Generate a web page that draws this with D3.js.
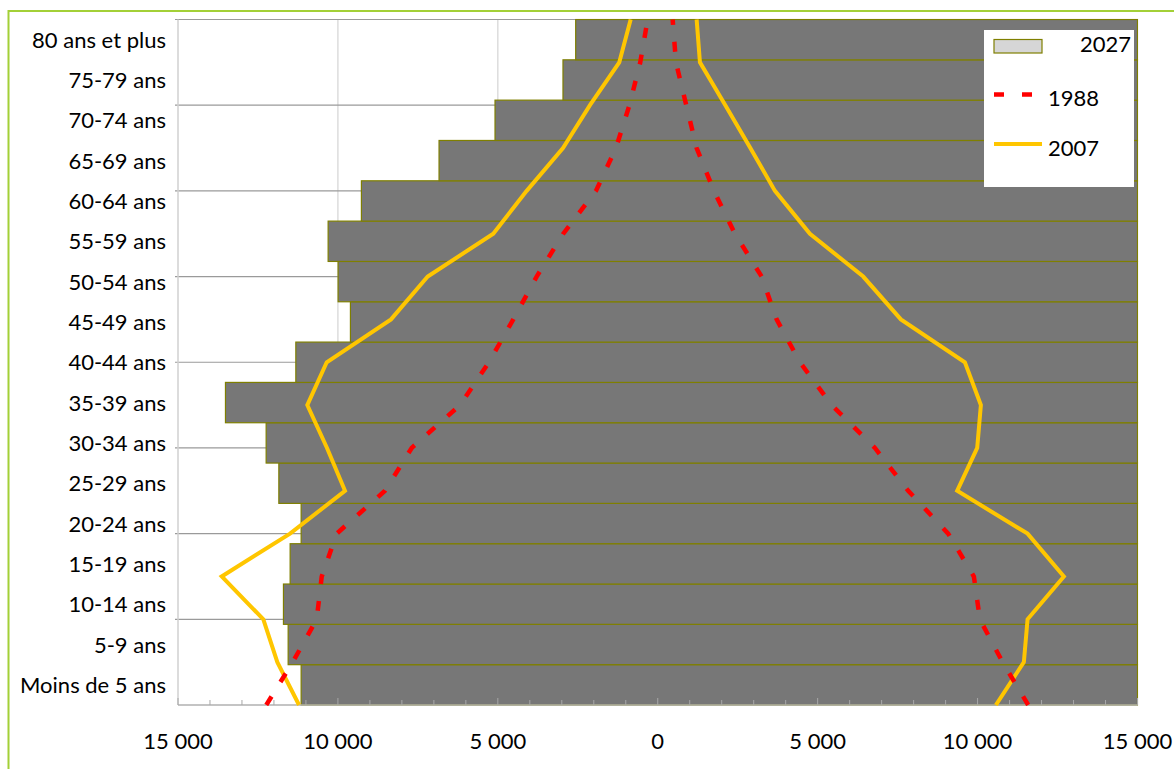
<!DOCTYPE html>
<html><head><meta charset="utf-8">
<script src="https://cdn.jsdelivr.net/npm/d3@7"></script>
<style>
html,body{margin:0;padding:0;background:#fff;}
svg text{font-family:Lato,"Open Sans",sans-serif;fill:#000;}
</style></head>
<body><svg id="chart" width="1174" height="769"></svg>
<script>
// ---- data (youngest to oldest) ----
const ageGroups = ["Moins de 5 ans","5-9 ans","10-14 ans","15-19 ans","20-24 ans","25-29 ans","30-34 ans","35-39 ans","40-44 ans","45-49 ans","50-54 ans","55-59 ans","60-64 ans","65-69 ans","70-74 ans","75-79 ans","80 ans et plus"];
const hommes2027 = [11150,11556,11703,11494,11150,11847,12244,13516,11316,9609,9994,10306,9266,6838,5088,2963,2566];
const hommes2007 = [11216,11894,12332,13633,11497,9778,10341,10957,10350,8340,7193,5142,4098,2963,2119,1203,847];
const femmes2007 = [10572,11447,11563,12698,11563,9362,9988,10103,9603,7602,6424,4758,3664,2895,2113,1319,1216];
const hommes1988 = [12240,11413,10663,10506,10038,8528,7693,6183,5277,4517,3786,2954,1932,1307,885,547,316];
const femmes1988 = [11582,10782,10072,9884,9081,7831,6790,5436,4445,3717,3248,2413,1757,1216,891,569,466];
const xTickValues = [-15000,-10000,-5000,0,5000,10000,15000];
const xTickLabels = ["15 000","10 000","5 000","0","5 000","10 000","15 000"];
const legendLabels = ["2027","1988","2007"];

const svg = d3.select("#chart");
const L = 178, R = 1137.5, T = 19.5, B = 705;
const FONT = 22;

// outer border
svg.append("rect").attr("x",8.5).attr("y",11).attr("width",1180).attr("height",780)
  .attr("fill","none").attr("stroke","#a3d037").attr("stroke-width",2);

const x = d3.scaleLinear().domain([-15000,15000]).range([L,R]);
const yBand = d3.scaleBand().domain(ageGroups.slice().reverse()).range([T,B]).padding(0);
const yPt = d3.scaleLinear().domain([0,ageGroups.length-1]).range([B,T]);

svg.append("clipPath").attr("id","plotclip").append("rect")
  .attr("x",L).attr("y",T-1).attr("width",R-L+1).attr("height",B-T+2);

// vertical gridlines
svg.append("g").selectAll("line").data(xTickValues.filter(v=>v>-15000 && v<15000)).join("line")
  .attr("x1",d=>x(d)).attr("x2",d=>x(d)).attr("y1",T).attr("y2",B)
  .attr("stroke","#d4d4d4").attr("stroke-width",1.2);
// horizontal gridlines (secondary scale, step 2)
svg.append("g").selectAll("line").data(d3.range(2,ageGroups.length,2)).join("line")
  .attr("x1",L-3).attr("x2",R).attr("y1",d=>yPt(d)).attr("y2",d=>yPt(d))
  .attr("stroke","#9a9a9a").attr("stroke-width",1.2);
// left axis line
svg.append("line").attr("x1",L).attr("x2",L).attr("y1",T).attr("y2",B)
  .attr("stroke","#d0d0d0").attr("stroke-width",1.5);

// bars
svg.append("g").attr("clip-path","url(#plotclip)").selectAll("rect")
  .data(ageGroups.map((a,i)=>({a,v:hommes2027[i]}))).join("rect")
  .attr("x",d=>x(-d.v)).attr("width",d=>x(x.domain()[1])-x(-d.v))
  .attr("y",d=>yBand(d.a)).attr("height",yBand.bandwidth())
  .attr("fill","#777777").attr("stroke","#7f7f00").attr("stroke-width",1.2);

// x axis
const ax = svg.append("g");
ax.append("line").attr("x1",L).attr("x2",R).attr("y1",B).attr("y2",B).attr("stroke","#b0b0b0").attr("stroke-width",1.5);
ax.selectAll("line.minor").data(x.ticks(30)).join("line").attr("class","minor")
  .attr("x1",d=>x(d)).attr("x2",d=>x(d)).attr("y1",B).attr("y2",d=>d%5000===0?B-7:B-5)
  .attr("stroke","#a8a8a8").attr("stroke-width",1);
ax.selectAll("text").data(xTickValues).join("text")
  .attr("x",d=>x(d)).attr("y",749).attr("text-anchor","middle")
  .style("font-size",FONT+"px").text((d,i)=>xTickLabels[i]);

// y labels
svg.append("g").selectAll("text").data(ageGroups).join("text")
  .attr("x",166).attr("y",d=>yBand(d)+yBand.bandwidth()/2+8)
  .attr("text-anchor","end").style("font-size",FONT+"px").text(d=>d);

// lines
const lineGen = d3.line().x(d=>x(d.v)).y(d=>yPt(d.i));
const toPts = (arr,sign)=>arr.map((v,i)=>({i,v:sign*v}));
const lines = svg.append("g").attr("clip-path","url(#plotclip)");
[[hommes2007,-1],[femmes2007,1]].forEach(([arr,s])=>{
  lines.append("path").datum(toPts(arr,s)).attr("d",lineGen)
    .attr("fill","none").attr("stroke","#ffc600").attr("stroke-width",4).attr("stroke-linejoin","miter");
});
[[hommes1988,-1],[femmes1988,1]].forEach(([arr,s])=>{
  lines.append("path").datum(toPts(arr,s)).attr("d",lineGen)
    .attr("fill","none").attr("stroke","#ff0000").attr("stroke-width",4.5).attr("stroke-dasharray","10,17");
});

// legend
const lg = svg.append("g");
lg.append("rect").attr("x",984).attr("y",30).attr("width",150).attr("height",157).attr("fill","#fff");
lg.append("rect").attr("x",994).attr("y",39.5).attr("width",48).attr("height",13.5)
  .attr("fill","#d6d6d6").attr("stroke","#7f7f00").attr("stroke-width",1.2);
lg.append("text").attr("x",1131).attr("y",52).attr("text-anchor","end").style("font-size",FONT+"px").text(legendLabels[0]);
lg.append("line").attr("x1",994).attr("x2",1034).attr("y1",94.5).attr("y2",94.5)
  .attr("stroke","#ff0000").attr("stroke-width",4.5).attr("stroke-dasharray","10,18");
lg.append("text").attr("x",1048).attr("y",106).style("font-size",FONT+"px").text(legendLabels[1]);
lg.append("line").attr("x1",994).attr("x2",1042).attr("y1",144).attr("y2",144)
  .attr("stroke","#ffc600").attr("stroke-width",4);
lg.append("text").attr("x",1048).attr("y",155.5).style("font-size",FONT+"px").text(legendLabels[2]);
</script></body></html>
